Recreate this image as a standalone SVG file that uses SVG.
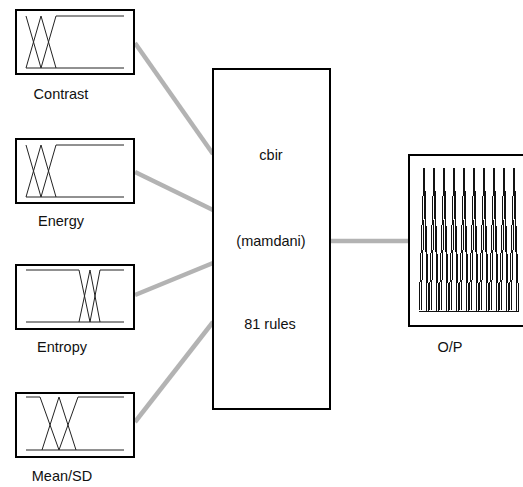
<svg xmlns="http://www.w3.org/2000/svg" width="523" height="487" viewBox="0 0 523 487">
<style>
.box{fill:#fff;stroke:#000;stroke-width:2}
.mf{fill:none;stroke:#222;stroke-width:1}
.op{fill:none;stroke:#111;stroke-width:1;shape-rendering:crispEdges}
.con{stroke:#b3b3b3;stroke-width:4.5;fill:none}
text{font-family:"Liberation Sans",Arial,sans-serif;font-size:14.5px;fill:#111;text-anchor:middle}
</style>
<rect width="523" height="487" fill="#fff"/>
<g id="connectors">
<line class="con" x1="135" y1="43" x2="213" y2="154"/>
<line class="con" x1="135" y1="172" x2="213" y2="210"/>
<line class="con" x1="135" y1="295" x2="213" y2="263"/>
<line class="con" x1="135" y1="422" x2="213" y2="322"/>
<line class="con" x1="330" y1="241" x2="410" y2="241"/>
</g>
<g id="contrast">
<rect class="box" x="16" y="10" width="118" height="64"/>
<polyline class="mf" points="26,68 124,68"/>
<polyline class="mf" points="26,16 41,68"/>
<polyline class="mf" points="26,68 41,16 56,68"/>
<polyline class="mf" points="41,68 56,16 124,16"/>
<text x="61" y="99">Contrast</text>
</g>
<g id="energy">
<rect class="box" x="16" y="139" width="118" height="64"/>
<polyline class="mf" points="26,197 124,197"/>
<polyline class="mf" points="26,145 41,197"/>
<polyline class="mf" points="26,197 41,145 56,197"/>
<polyline class="mf" points="41,197 56,145 124,145"/>
<text x="61" y="226">Energy</text>
</g>
<g id="entropy">
<rect class="box" x="16" y="265" width="118" height="64"/>
<polyline class="mf" points="26,322 124,322"/>
<polyline class="mf" points="26,270 79,270 90,322"/>
<polyline class="mf" points="79,322 90,270 100,322"/>
<polyline class="mf" points="90,322 100,270 124,270"/>
<text x="62" y="352">Entropy</text>
</g>
<g id="meansd">
<rect class="box" x="16" y="393" width="118" height="64"/>
<polyline class="mf" points="26,450 124,450"/>
<polyline class="mf" points="26,397 40,397 59,450"/>
<polyline class="mf" points="42,450 59,397 76,450"/>
<polyline class="mf" points="59,450 78,397 124,397"/>
<text x="62" y="481">Mean/SD</text>
</g>
<g id="cbir">
<rect class="box" x="213" y="69" width="117" height="340"/>
<text x="271" y="160">cbir</text>
<text x="271" y="246">(mamdani)</text>
<text x="270" y="329">81 rules</text>
</g>
<g id="output">
<rect class="box" x="409" y="155" width="124" height="171"/>
<polyline class="op" points="419,311 519,311"/>
<g class="op">
<polyline points="419,311 424,168 429,311"/>
<polyline points="421,311 425,190 427,311"/>
<polyline points="429,311 434,168 439,311"/>
<polyline points="431,311 435,190 437,311"/>
<polyline points="439,311 444,168 449,311"/>
<polyline points="441,311 445,190 447,311"/>
<polyline points="449,311 454,168 459,311"/>
<polyline points="451,311 455,190 457,311"/>
<polyline points="459,311 464,168 469,311"/>
<polyline points="461,311 465,190 467,311"/>
<polyline points="469,311 474,168 479,311"/>
<polyline points="471,311 475,190 477,311"/>
<polyline points="479,311 484,168 489,311"/>
<polyline points="481,311 485,190 487,311"/>
<polyline points="489,311 494,168 499,311"/>
<polyline points="491,311 495,190 497,311"/>
<polyline points="499,311 504,168 509,311"/>
<polyline points="501,311 505,190 507,311"/>
<polyline points="509,311 514,168 519,311"/>
<polyline points="511,311 515,190 517,311"/>
</g>
<text x="450" y="352">O/P</text>
</g>
</svg>
